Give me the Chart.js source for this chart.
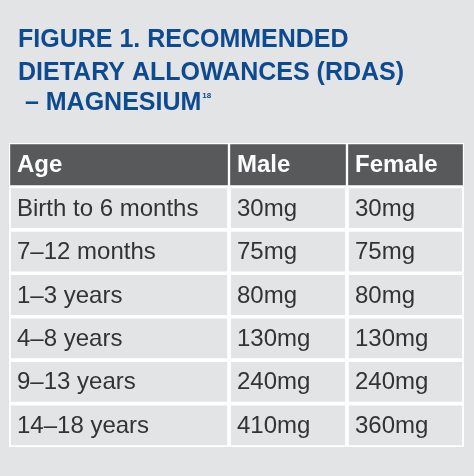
<!DOCTYPE html>
<html><head><meta charset="utf-8">
<script src="https://cdn.jsdelivr.net/npm/chart.js@4"></script>
<style>html,body{margin:0;padding:0;background:#e3e4e6;}#w{width:474px;height:476px;}</style>
</head><body><div id="w"><canvas id="c"></canvas></div>
<script>
const titleLines = ["FIGURE 1. RECOMMENDED", "DIETARY ALLOWANCES (RDAS)", " – MAGNESIUM"];
const titleSup = "18";
const headers = ["Age", "Male", "Female"];
const ages = ["Birth to 6 months", "7–12 months", "1–3 years", "4–8 years", "9–13 years", "14–18 years"];
const male = ["30mg", "75mg", "80mg", "130mg", "240mg", "410mg"];
const female = ["30mg", "75mg", "80mg", "130mg", "240mg", "360mg"];
const colEdges = [0, 220, 338, 455];

const rows = ["header"].concat(ages);
const cellText = [headers].concat(ages.map((a,i)=>[a, male[i], female[i]]));

const datasets = [0,1,2].map(ci => ({
  data: rows.map(() => [colEdges[ci], colEdges[ci+1]]),
  backgroundColor: rows.map((r,i) => i===0 ? '#58595b' : 'rgba(0,0,0,0)'),
  borderColor: '#ffffff',
  borderWidth: 1.5,
  borderSkipped: false,
  barPercentage: 1,
  categoryPercentage: 1,
  grouped: false
}));

const textPlugin = {
  id: 'txt',
  afterDatasetsDraw(chart) {
    const ctx = chart.ctx, x = chart.scales.x, y = chart.scales.y;
    ctx.save();
    ctx.textBaseline = 'middle';
    cellText.forEach((row, ri) => {
      const cy = y.getPixelForValue(ri);
      row.forEach((t, ci) => {
        ctx.font = (ri===0 ? 'bold 24px ' : '24px ') + '"Liberation Sans", Arial, sans-serif';
        ctx.fillStyle = ri===0 ? '#ffffff' : '#333333';
        ctx.fillText(t, x.getPixelForValue(colEdges[ci]) + 8, cy + 1);
      });
    });
    ctx.fillStyle = '#0d4a8f';
    ctx.textBaseline = 'alphabetic';
    ctx.font = 'bold 25px "Liberation Sans", Arial, sans-serif';
    const ys = [47, 80, 110];
    titleLines.forEach((l,i) => ctx.fillText(l, 18, ys[i]));
    const w = ctx.measureText(titleLines[2]).width;
    ctx.font = 'bold 8px "Liberation Sans", Arial, sans-serif';
    ctx.fillText(titleSup, 18 + w + 1, 98);
    ctx.restore();
  }
};

new Chart(document.getElementById('c'), {
  type: 'bar',
  data: { labels: rows, datasets },
  options: {
    indexAxis: 'y',
    responsive: true, maintainAspectRatio: false, animation: false,
    layout: { padding: { left: 9, top: 143, right: 10, bottom: 29 } },
    plugins: { legend: { display: false }, tooltip: { enabled: false } },
    scales: {
      x: { display: false, min: colEdges[0], max: colEdges[3] },
      y: { display: false, offset: true }
    }
  },
  plugins: [textPlugin]
});
</script></body></html>
